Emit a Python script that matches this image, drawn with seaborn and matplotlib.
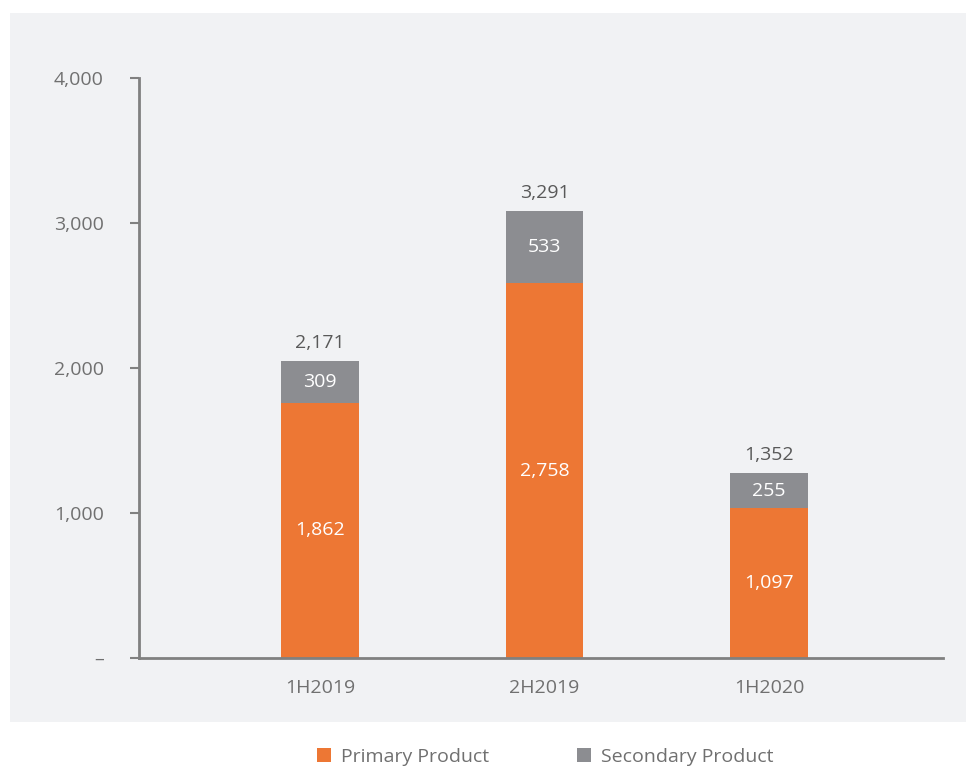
import matplotlib
matplotlib.use("Agg")
import matplotlib.pyplot as plt
from matplotlib.patches import Patch, Rectangle
import seaborn as sns
import pandas as pd

# ---- data ----
categories = ["1H2019", "2H2019", "1H2020"]
primary_height = [1759, 2586, 1034]
total_height = [2048, 3083, 1276]
# value labels printed in the reference
primary_labels = ["1,862", "2,758", "1,097"]
secondary_labels = ["309", "533", "255"]
total_labels = ["2,171", "3,291", "1,352"]
y_ticks = [0, 1000, 2000, 3000, 4000]
y_tick_labels = ["\u2013", "1,000", "2,000", "3,000", "4,000"]
series_names = ["Primary Product", "Secondary Product"]

ORANGE = "#ED7734"
GRAY = "#8C8D91"
PANEL = "#F1F2F4"
AXCOL = "#808080"
TICKTXT = "#707070"
LABTXT = "#595959"
FS = 14

sns.set_theme(style="white")
plt.rcParams["font.family"] = ["Open Sans", "DejaVu Sans"]

df = pd.DataFrame({"cat": categories, "primary": primary_height, "total": total_height})

W, H = 966, 767
fig = plt.figure(figsize=(W / 100, H / 100), dpi=100)
fig.patch.set_facecolor("white")
# grey panel
panel = Rectangle((10 / W, 1 - 722 / H), (W - 10) / W, (722 - 13) / H,
                  transform=fig.transFigure, facecolor=PANEL, edgecolor="none", zorder=-10)
fig.add_artist(panel)

ax_left, ax_right = 139, 943
ax_top, ax_bot = 78, 658
ax = fig.add_axes([ax_left / W, 1 - ax_bot / H, (ax_right - ax_left) / W, (ax_bot - ax_top) / H])
ax.set_facecolor("none")
ax.set_zorder(1)

bw = 0.347
sns.barplot(data=df, x="cat", y="total", color=GRAY, saturation=1, width=bw, ax=ax,
            linewidth=0, edgecolor="none", zorder=2)
sns.barplot(data=df, x="cat", y="primary", color=ORANGE, saturation=1, width=bw, ax=ax,
            linewidth=0, edgecolor="none", zorder=3)

ax.set_xlim(-0.806, 2.775)
ax.set_ylim(0, 4000)
ax.set_xlabel("")
ax.set_ylabel("")
ax.set_yticks(y_ticks)
ax.set_yticklabels(y_tick_labels)
ax.tick_params(axis="y", length=6.5, width=1.5, color=AXCOL, pad=19, labelsize=FS, labelcolor=TICKTXT, left=True)
ax.tick_params(axis="x", length=0, pad=15, labelsize=FS, labelcolor=TICKTXT)
for s in ["top", "right"]:
    ax.spines[s].set_visible(False)
for s in ["left", "bottom"]:
    ax.spines[s].set_color(AXCOL)
    ax.spines[s].set_linewidth(2)
    ax.spines[s].set_zorder(4)

for i in range(len(categories)):
    p = primary_height[i]
    t = total_height[i]
    ax.text(i, p / 2, primary_labels[i], ha="center", va="center", color="white", fontsize=FS, zorder=5)
    ax.text(i, (p + t) / 2, secondary_labels[i], ha="center", va="center", color="white", fontsize=FS, zorder=5)
    ax.text(i, t + 125, total_labels[i], ha="center", va="center", color=LABTXT, fontsize=FS, zorder=5)

handles = [Patch(facecolor=ORANGE, edgecolor="none"), Patch(facecolor=GRAY, edgecolor="none")]
fig.legend(handles, series_names, ncol=2, loc="center", bbox_to_anchor=(545 / W, 1 - 757 / H),
           frameon=False, fontsize=FS, handlelength=0.72, handleheight=0.72, handletextpad=0.52,
           columnspacing=4.5, labelcolor=TICKTXT)

fig.savefig("out.png", dpi=100)
